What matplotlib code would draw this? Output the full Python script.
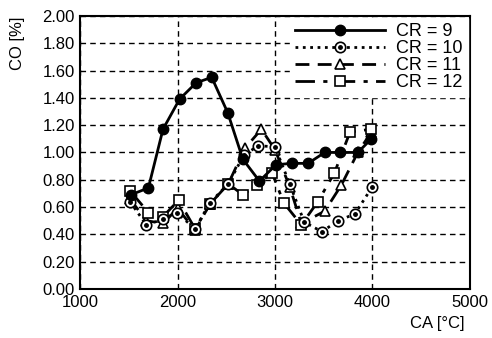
import matplotlib
matplotlib.use("Agg")
import matplotlib.pyplot as plt
import numpy as np

plt.rcParams['font.family'] = ['Liberation Sans', 'DejaVu Sans']

# CA [°C] / CO [%]
ca_9 = [1520, 1700, 1850, 2020, 2190, 2350, 2515, 2670, 2840, 3010, 3170, 3340, 3510, 3670, 3850, 3990]
co_9 = [0.69, 0.74, 1.17, 1.39, 1.51, 1.55, 1.29, 0.95, 0.79, 0.91, 0.92, 0.92, 1.00, 1.00, 1.00, 1.10]

ca_10 = [1510, 1680, 1850, 1990, 2180, 2330, 2520, 2680, 2830, 3000, 3150, 3300, 3480, 3650, 3820, 4000]
co_10 = [0.64, 0.47, 0.51, 0.56, 0.44, 0.63, 0.77, 0.98, 1.05, 1.04, 0.77, 0.49, 0.42, 0.50, 0.55, 0.75]

ca_11 = [1510, 1680, 1850, 2000, 2180, 2330, 2520, 2690, 2860, 3000, 3150, 3270, 3510, 3680, 3850, 3990]
co_11 = [0.66, 0.50, 0.48, 0.59, 0.43, 0.62, 0.77, 1.03, 1.17, 1.02, 0.75, 0.48, 0.57, 0.76, 1.00, 1.15]

ca_12 = [1510, 1700, 1850, 2010, 2180, 2330, 2520, 2670, 2810, 2970, 3090, 3270, 3440, 3610, 3770, 3990]
co_12 = [0.72, 0.56, 0.53, 0.65, 0.44, 0.62, 0.77, 0.69, 0.76, 0.85, 0.63, 0.47, 0.64, 0.85, 1.15, 1.17]

xticks = [1000, 2000, 3000, 4000, 5000]
yticks = np.arange(0, 2.01, 0.2)

fig = plt.figure(figsize=(4.92, 3.38), dpi=100)
ax = fig.add_axes([0.163, 0.145, 0.792, 0.808])

ms = 7.5
l9, = ax.plot(ca_9, co_9, '-', color='black', lw=2, marker='o', ms=ms, zorder=5)
l10, = ax.plot(ca_10, co_10, ':', color='black', lw=2, marker='o', ms=ms,
               mfc='white', mec='black', mew=1.2, zorder=4)
d10, = ax.plot(ca_10, co_10, ls='none', marker='o', ms=2.5, color='black', zorder=4)
l11, = ax.plot(ca_11, co_11, color='black', lw=2, ls=(0, (5, 3)), marker='^', ms=ms,
               mfc='white', mec='black', mew=1.2, zorder=3)
l12, = ax.plot(ca_12, co_12, color='black', lw=2, ls=(0, (7, 3, 1.5, 3)), marker='s', ms=ms,
               mfc='white', mec='black', mew=1.2, zorder=3)

ax.set_xlim(1000, 5000)
ax.set_ylim(0, 2.0)
ax.set_xticks(xticks)
ax.set_yticks(yticks)
ax.set_yticklabels([f"{v:.2f}" for v in yticks])
ax.tick_params(labelsize=12, length=0, pad=4)
ax.grid(True, color='black', ls=(0, (4, 3)), lw=1)
for s in ax.spines.values():
    s.set_linewidth(1.5)

fig.text(0.02, 0.95, "CO [%]", rotation=90, ha='left', va='top', fontsize=12)
fig.text(0.945, 0.02, "CA [°C]", ha='right', va='bottom', fontsize=12)

leg = ax.legend([l9, (l10, d10), l11, l12], ["CR = 9", "CR = 10", "CR = 11", "CR = 12"],
                loc='upper right', fontsize=13, frameon=True, framealpha=1,
                edgecolor='white', fancybox=False, handlelength=5,
                labelspacing=0.0, borderpad=0.3, handletextpad=0.6,
                borderaxespad=0.1)

fig.savefig("out.png", dpi=100)
